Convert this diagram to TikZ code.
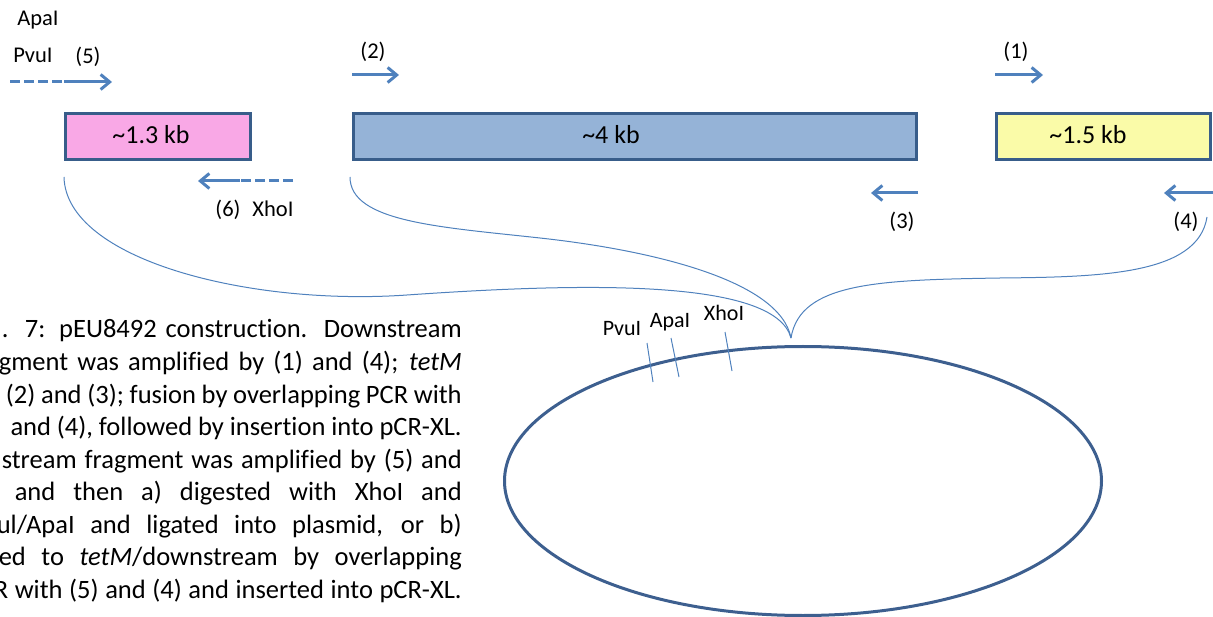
\documentclass[tikz,border=0pt]{standalone}
\usepackage{fontspec}
\setmainfont{Carlito}[Ligatures=NoCommon]
\usetikzlibrary{arrows.meta,shapes.geometric}
\definecolor{arrowblue}{HTML}{4F81BD}
\definecolor{boxborder}{HTML}{385D8A}
\definecolor{pinkfill}{HTML}{F9A8E6}
\definecolor{bluefill}{HTML}{95B3D7}
\definecolor{yellowfill}{HTML}{FAFBA8}
\definecolor{plasmidcol}{HTML}{3D5F8F}
\newcommand{\jline}[2]{\hbox to #1{\hskip 0pt minus 80pt\relax #2}}
\begin{document}
\begin{tikzpicture}[x=1pt,y=-1pt,
  fragbox/.style={draw=boxborder, line width=3pt, minimum height=46pt, inner sep=0pt, outer sep=0pt},
  boxtxt/.style={font=\fontsize{26}{30}\selectfont, inner sep=0pt, anchor=base},
  primer/.style={draw=arrowblue, line width=3pt, -{Straight Barb[length=9pt,width=15pt]}},
  tailline/.style={draw=arrowblue, line width=3pt, dash pattern=on 10pt off 4pt},
  lbl/.style={font=\fontsize{22.5}{27}\selectfont, inner sep=0pt, anchor=base},
  sitelbl/.style={font=\fontsize{22}{26}\selectfont, inner sep=0pt, anchor=base},
  curve/.style={draw=arrowblue, line width=1pt},
  sitetick/.style={draw=arrowblue, line width=1pt},
  captxt/.style={font=\fontsize{26.5}{32}\selectfont, inner sep=0pt, anchor=base east}
]
\useasboundingbox (0,0) rectangle (1213,617);
\clip (0,0) rectangle (1213,617);

% fragments
\node[fragbox, fill=pinkfill, minimum width=185pt] (pink) at (158,136.5) {};
\node[fragbox, fill=bluefill, minimum width=563pt] (blue) at (635,136.5) {};
\node[fragbox, fill=yellowfill, minimum width=214pt] (yellow) at (1103.5,136.5) {};
\node[boxtxt] (pinktxt) at (151,144) {\textasciitilde1.3 kb};
\node[boxtxt] (bluetxt) at (611,144) {\textasciitilde4 kb};
\node[boxtxt] (yellowtxt) at (1088,144) {\textasciitilde1.5 kb};

% primers
\coordinate (p5d) at (10,82);
\coordinate (p5s) at (64,82);
\coordinate (p5e) at (112,82);
\draw[tailline] (p5d) -- (p5s);
\draw[primer] (p5s) -- (p5e);

\coordinate (p6d) at (293,181);
\coordinate (p6s) at (240,181);
\coordinate (p6e) at (198,181);
\draw[tailline] (p6d) -- (p6s);
\draw[primer] (p6s) -- (p6e);

\coordinate (p2s) at (352,75);
\coordinate (p2e) at (399,75);
\draw[primer] (p2s) -- (p2e);

\coordinate (p3s) at (918,193);
\coordinate (p3e) at (871,193);
\draw[primer] (p3s) -- (p3e);

\coordinate (p1s) at (995,75);
\coordinate (p1e) at (1043,75);
\draw[primer] (p1s) -- (p1e);

\coordinate (p4s) at (1213,193);
\coordinate (p4e) at (1164,193);
\draw[primer] (p4s) -- (p4e);

% primer labels
\node[lbl] (lapa) at (38,26) {ApaI};
\node[lbl] (lpvu) at (33,63) {PvuI};
\node[lbl] (l5) at (88,64) {(5)};
\node[lbl] (l6) at (228,217) {(6)};
\node[lbl] (lxho) at (273,217) {XhoI};
\node[lbl] (l2) at (373,58.5) {(2)};
\node[lbl] (l1) at (1016,59) {(1)};
\node[lbl] (l3) at (902,229) {(3)};
\node[lbl] (l4) at (1186,229) {(4)};

% plasmid
\node[draw=plasmidcol, line width=3pt, ellipse, minimum width=597pt, minimum height=269pt, inner sep=0pt] (plasmid) at (803,481) {};
\draw[sitetick] (647,343) -- (653,382);
\draw[sitetick] (671,338) -- (679,377);
\draw[sitetick] (725,332) -- (732,371);
\node[sitelbl] (spvu) at (622,336) {PvuI};
\node[sitelbl] (sapa) at (670,328) {ApaI};
\node[sitelbl] (sxho) at (724,321) {XhoI};

% connecting curves
\coordinate (junction) at (791,338);
\coordinate (cpink) at (64,177);
\coordinate (cblue) at (350,177);
\coordinate (cyellow) at (1207,217);
\draw[curve] (cpink) .. controls (66,260) and (250,306) .. (407,295)
  .. controls (580,283) and (775,278) .. (junction);
\draw[curve] (cblue) .. controls (350,222) and (440,227) .. (540,238)
  .. controls (650,250) and (780,280) .. (junction);
\draw[curve] (cyellow) .. controls (1198,275) and (1100,277) .. (1000,278)
  .. controls (880,280) and (800,282) .. (junction);

% caption
\node[captxt] (c1) at (462,338) {\jline{460pt}{. 7: pEU8492 construction. Downstream}};
\node[captxt] (c2) at (462,370.5) {\jline{463pt}{gment was amplified by (1) and (4); \textit{tetM}}};
\node[captxt] (c3) at (462,403) {\jline{444pt}{(2) and (3); fusion by overlapping PCR with}};
\node[captxt] (c4) at (462,435.5) {\jline{447pt}{and (4), followed by insertion into pCR-XL.}};
\node[captxt] (c5) at (462,468) {\jline{460pt}{stream fragment was amplified by (5) and}};
\node[captxt] (c6) at (462,500.5) {\jline{447pt}{and then a) digested with XhoI and}};
\node[captxt] (c7) at (462,533) {\jline{465pt}{ul/ApaI and ligated into plasmid, or b)}};
\node[captxt] (c8) at (462,565.5) {\jline{463pt}{ed to \textit{tetM}/downstream by overlapping}};
\node[captxt] (c9) at (462,598) {\jline{468pt}{R with (5) and (4) and inserted into pCR-XL.}};
\end{tikzpicture}
\end{document}
